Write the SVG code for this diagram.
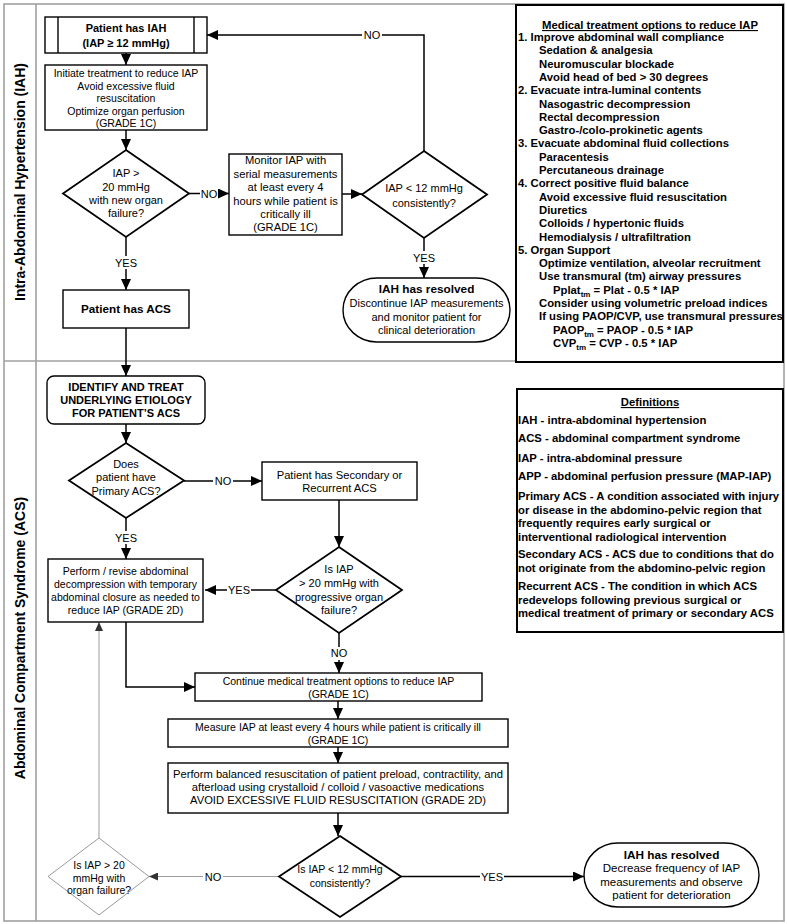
<svg xmlns="http://www.w3.org/2000/svg" width="787" height="924" viewBox="0 0 787 924">
<style>
text{font-family:"Liberation Sans",Arial,sans-serif;fill:#000}
.t{font-size:10.5px;text-anchor:middle}
.t11{font-size:11px;text-anchor:middle}
.t112{font-size:11.2px;text-anchor:middle}
.lb{font-size:11px;text-anchor:middle}
.b{font-size:11px;font-weight:bold;text-anchor:middle}
.bt{font-size:11.8px;font-weight:bold;text-anchor:middle}
.lst{font-size:11.3px;font-weight:bold}
.lane{font-size:14px;font-weight:bold;text-anchor:middle}
.box{fill:#fff;stroke:#000;stroke-width:1.4}
.dia{fill:#fff;stroke:#000;stroke-width:1.8}
.panel{fill:#fff;stroke:#000;stroke-width:2}
.c{fill:none;stroke:#000;stroke-width:1.5}
.g{fill:none;stroke:#9a9a9a;stroke-width:1}
.bg{fill:#fff;stroke:none}
.frame{fill:none;stroke:#a0a0a0;stroke-width:1.6}
</style>
<defs>
<marker id="ah" markerUnits="userSpaceOnUse" markerWidth="11" markerHeight="10" refX="11" refY="5" orient="auto">
<path d="M0,0 L11,5 L0,10 Z" fill="#000"/>
</marker>
<marker id="ahg" markerUnits="userSpaceOnUse" markerWidth="9" markerHeight="8" refX="9" refY="4" orient="auto">
<path d="M0,0 L9,4 L0,8 Z" fill="#333"/>
</marker>
</defs>
<rect width="787" height="924" fill="#fff"/>
<g id="frame">
<rect class="frame" x="4" y="4" width="780" height="917"/>
<line class="frame" x1="36" y1="4" x2="36" y2="921"/>
<line class="frame" x1="4" y1="361" x2="784" y2="361"/>
<text class="lane" transform="translate(25,182) rotate(-90)">Intra-Abdominal Hypertension (IAH)</text>
<text class="lane" transform="translate(25,638) rotate(-90)">Abdominal Compartment Syndrome (ACS)</text>
</g>
<g id="connectors">
<line class="c" x1="126" y1="53" x2="126" y2="65" marker-end="url(#ah)"/>
<line class="c" x1="126" y1="130" x2="126" y2="150" marker-end="url(#ah)"/>
<line class="c" x1="189" y1="193.5" x2="229" y2="193.5" marker-end="url(#ah)"/>
<rect class="bg" x="200" y="187" width="18" height="13"/>
<text class="lb" x="209" y="197.5">NO</text>
<line class="c" x1="342" y1="194" x2="362" y2="194" marker-end="url(#ah)"/>
<polyline class="c" points="424,151 424,35 207,35" marker-end="url(#ah)"/>
<rect class="bg" x="362" y="29" width="20" height="13"/>
<text class="lb" x="372" y="39">NO</text>
<line class="c" x1="424" y1="238" x2="424" y2="278" marker-end="url(#ah)"/>
<rect class="bg" x="412" y="251" width="24" height="13"/>
<text class="lb" x="424" y="262">YES</text>
<line class="c" x1="126" y1="237" x2="126" y2="290" marker-end="url(#ah)"/>
<rect class="bg" x="114" y="256" width="24" height="13"/>
<text class="lb" x="126" y="267">YES</text>
<line class="c" x1="126" y1="328" x2="126" y2="376" marker-end="url(#ah)"/>
<line class="c" x1="126" y1="424" x2="126" y2="443" marker-end="url(#ah)"/>
<line class="c" x1="184" y1="481" x2="262" y2="481" marker-end="url(#ah)"/>
<rect class="bg" x="213" y="475" width="20" height="13"/>
<text class="lb" x="223" y="485">NO</text>
<line class="c" x1="339" y1="500" x2="339" y2="547" marker-end="url(#ah)"/>
<line class="c" x1="276" y1="590" x2="205" y2="590" marker-end="url(#ah)"/>
<rect class="bg" x="227" y="584" width="24" height="13"/>
<text class="lb" x="239" y="594">YES</text>
<line class="c" x1="126" y1="518" x2="126" y2="559" marker-end="url(#ah)"/>
<rect class="bg" x="114" y="531" width="24" height="13"/>
<text class="lb" x="126" y="542">YES</text>
<polyline class="c" points="126,622 126,687 195,687" marker-end="url(#ah)"/>
<line class="c" x1="339" y1="633" x2="339" y2="673" marker-end="url(#ah)"/>
<rect class="bg" x="329" y="647" width="20" height="13"/>
<text class="lb" x="339" y="657">NO</text>
<line class="c" x1="338" y1="701" x2="338" y2="719" marker-end="url(#ah)"/>
<line class="c" x1="338" y1="747" x2="338" y2="763" marker-end="url(#ah)"/>
<line class="c" x1="338" y1="813" x2="338" y2="836" marker-end="url(#ah)"/>
<line class="g" x1="279" y1="876.5" x2="149" y2="876.5" marker-end="url(#ahg)"/>
<rect class="bg" x="203" y="870" width="20" height="13"/>
<text class="lb" x="213" y="880.5">NO</text>
<line class="g" x1="99" y1="838" x2="99" y2="622" marker-end="url(#ahg)"/>
<line class="c" x1="401" y1="876.5" x2="584" y2="876.5" marker-end="url(#ah)"/>
<rect class="bg" x="480" y="870" width="24" height="13"/>
<text class="lb" x="492" y="880.5">YES</text>
</g>
<g id="n-iah">
<rect class="box" x="45" y="17" width="162" height="36"/>
<line class="box" x1="58" y1="17" x2="58" y2="53"/>
<line class="box" x1="194" y1="17" x2="194" y2="53"/>
<text class="b" x="126" y="32">Patient has IAH</text>
<text class="b" x="126" y="47">(IAP ≥ 12 mmHg)</text>
</g>
<g id="n-initiate">
<rect class="box" x="45" y="65" width="162" height="65"/>
<text class="t" x="126" y="77">Initiate treatment to reduce IAP</text>
<text class="t" x="126" y="89.5">Avoid excessive fluid</text>
<text class="t" x="126" y="102">resuscitation</text>
<text class="t" x="126" y="114.5">Optimize organ perfusion</text>
<text class="t" x="126" y="127">(GRADE 1C)</text>
</g>
<g id="n-d1">
<polygon class="dia" points="126,150 189,193.5 126,237 63,193.5"/>
<text class="t11" x="126" y="177">IAP &gt;</text>
<text class="t11" x="126" y="190.5">20 mmHg</text>
<text class="t11" x="126" y="204">with new organ</text>
<text class="t11" x="126" y="217">failure?</text>
</g>
<g id="n-monitor">
<rect class="box" x="229" y="154" width="113" height="81"/>
<text class="t112" x="285.5" y="164">Monitor IAP with</text>
<text class="t112" x="285.5" y="177.5">serial measurements</text>
<text class="t112" x="285.5" y="191">at least every 4</text>
<text class="t112" x="285.5" y="204.5">hours while patient is</text>
<text class="t112" x="285.5" y="218">critically ill</text>
<text class="t112" x="285.5" y="231">(GRADE 1C)</text>
</g>
<g id="n-d2">
<polygon class="dia" points="424,151 487,194.5 424,238 362,194.5"/>
<text class="t11" x="424" y="192">IAP &lt; 12 mmHg</text>
<text class="t11" x="424" y="207">consistently?</text>
</g>
<g id="n-resolved1">
<rect class="box" x="343" y="278" width="167" height="64" rx="34" ry="32"/>
<text class="bt" x="426.5" y="293">IAH has resolved</text>
<text class="t11" x="426.5" y="307">Discontinue IAP measurements</text>
<text class="t11" x="426.5" y="320.5">and monitor patient for</text>
<text class="t11" x="426.5" y="334">clinical deterioration</text>
</g>
<g id="n-acs">
<rect class="box" x="63" y="290" width="126" height="38"/>
<text class="b" x="126" y="313" style="font-size:11.7px">Patient has ACS</text>
</g>
<g id="n-identify">
<rect class="box" x="47" y="376" width="158" height="48" rx="7"/>
<text class="b" x="126" y="391">IDENTIFY AND TREAT</text>
<text class="b" x="126" y="404">UNDERLYING ETIOLOGY</text>
<text class="b" x="126" y="417">FOR PATIENT’S ACS</text>
</g>
<g id="n-d3">
<polygon class="dia" points="126,443 184,480.5 126,518 69,480.5"/>
<text class="t11" x="126" y="468">Does</text>
<text class="t11" x="126" y="481">patient have</text>
<text class="t11" x="126" y="495">Primary ACS?</text>
</g>
<g id="n-secondary">
<rect class="box" x="262" y="462" width="155" height="38"/>
<text class="t112" x="339.5" y="479">Patient has Secondary or</text>
<text class="t112" x="339.5" y="491.5">Recurrent ACS</text>
</g>
<g id="n-d4">
<polygon class="dia" points="339,547 402,590 339,633 276,590"/>
<text class="t11" x="339" y="573">Is IAP</text>
<text class="t11" x="339" y="587">&gt; 20 mmHg with</text>
<text class="t11" x="339" y="601">progressive organ</text>
<text class="t11" x="339" y="614">failure?</text>
</g>
<g id="n-decompress">
<rect class="box" x="48" y="559" width="155" height="63"/>
<text class="t" x="125.5" y="575">Perform / revise abdominal</text>
<text class="t" x="125.5" y="588">decompression with temporary</text>
<text class="t" x="125.5" y="601">abdominal closure as needed to</text>
<text class="t" x="125.5" y="613.5">reduce IAP (GRADE 2D)</text>
</g>
<g id="n-continue">
<rect class="box" x="195" y="673" width="287" height="28"/>
<text class="t" x="338.5" y="685">Continue medical treatment options to reduce IAP</text>
<text class="t" x="338.5" y="697.5">(GRADE 1C)</text>
</g>
<g id="n-measure">
<rect class="box" x="168" y="719" width="340" height="28"/>
<text class="t" x="338" y="731">Measure IAP at least every 4 hours while patient is critically ill</text>
<text class="t" x="338" y="743.5">(GRADE 1C)</text>
</g>
<g id="n-balanced">
<rect class="box" x="168" y="763" width="340" height="50"/>
<text class="t112" x="338" y="778">Perform balanced resuscitation of patient preload, contractility, and</text>
<text class="t112" x="338" y="791">afterload using crystalloid / colloid / vasoactive medications</text>
<text class="t112" x="338" y="804">AVOID EXCESSIVE FLUID RESUSCITATION (GRADE 2D)</text>
</g>
<g id="n-d5">
<polygon class="dia" points="340,836 401,876.5 340,917 279,876.5"/>
<text class="t" x="340" y="873">Is IAP &lt; 12 mmHg</text>
<text class="t" x="340" y="887">consistently?</text>
</g>
<g id="n-d6">
<polygon fill="#fff" stroke="#9a9a9a" stroke-width="1" points="99,838 149,876.5 99,915 48,876.5"/>
<text class="t" x="99" y="869">Is IAP &gt; 20</text>
<text class="t" x="99" y="882">mmHg with</text>
<text class="t" x="99" y="894">organ failure?</text>
</g>
<g id="n-resolved2">
<rect class="box" x="584" y="843" width="175" height="64" rx="34" ry="32"/>
<text class="bt" x="671.5" y="859">IAH has resolved</text>
<text class="t" x="671.5" y="872" style="font-size:11.5px">Decrease frequency of IAP</text>
<text class="t" x="671.5" y="886" style="font-size:11.5px">measurements and observe</text>
<text class="t" x="671.5" y="899" style="font-size:11.5px">patient for deterioration</text>
</g>
<g id="n-medical">
<rect class="panel" x="516" y="5" width="267" height="357"/>
<text class="lst" x="650" y="29" text-anchor="middle" text-decoration="underline">Medical treatment options to reduce IAP</text>
<text class="lst" x="518" y="41">1. Improve abdominal wall compliance</text>
<text class="lst" x="539" y="54.3">Sedation &amp; analgesia</text>
<text class="lst" x="539" y="67.6">Neuromuscular blockade</text>
<text class="lst" x="539" y="80.9">Avoid head of bed &gt; 30 degrees</text>
<text class="lst" x="518" y="94.2">2. Evacuate intra-luminal contents</text>
<text class="lst" x="539" y="107.5">Nasogastric decompression</text>
<text class="lst" x="539" y="120.8">Rectal decompression</text>
<text class="lst" x="539" y="134.1">Gastro-/colo-prokinetic agents</text>
<text class="lst" x="518" y="147.4">3. Evacuate abdominal fluid collections</text>
<text class="lst" x="539" y="160.7">Paracentesis</text>
<text class="lst" x="539" y="174">Percutaneous drainage</text>
<text class="lst" x="518" y="187.3">4. Correct positive fluid balance</text>
<text class="lst" x="539" y="200.6">Avoid excessive fluid resuscitation</text>
<text class="lst" x="539" y="213.9">Diuretics</text>
<text class="lst" x="539" y="227.2">Colloids / hypertonic fluids</text>
<text class="lst" x="539" y="240.5">Hemodialysis / ultrafiltration</text>
<text class="lst" x="518" y="253.8">5. Organ Support</text>
<text class="lst" x="539" y="267.1">Optimize ventilation, alveolar recruitment</text>
<text class="lst" x="539" y="280.4">Use transmural (tm) airway pressures</text>
<text class="lst" x="553" y="293.7">Pplat<tspan font-size="8" dy="3">tm</tspan><tspan dy="-3"> = Plat - 0.5 * IAP</tspan></text>
<text class="lst" x="539" y="307">Consider using volumetric preload indices</text>
<text class="lst" x="539" y="320.3">If using PAOP/CVP, use transmural pressures</text>
<text class="lst" x="553" y="333.6">PAOP<tspan font-size="8" dy="3">tm</tspan><tspan dy="-3"> = PAOP - 0.5 * IAP</tspan></text>
<text class="lst" x="553" y="346.9">CVP<tspan font-size="8" dy="3">tm</tspan><tspan dy="-3"> = CVP - 0.5 * IAP</tspan></text>
</g>
<g id="n-definitions">
<rect class="panel" x="517" y="389" width="266" height="243"/>
<text class="lst" x="650" y="406" text-anchor="middle" text-decoration="underline">Definitions</text>
<text class="lst" x="518" y="424">IAH - intra-abdominal hypertension</text>
<text class="lst" x="518" y="441.5">ACS - abdominal compartment syndrome</text>
<text class="lst" x="518" y="462">IAP - intra-abdominal pressure</text>
<text class="lst" x="518" y="480">APP - abdominal perfusion pressure (MAP-IAP)</text>
<text class="lst" x="518" y="500">Primary ACS - A condition associated with injury</text>
<text class="lst" x="518" y="513.5">or disease in the abdomino-pelvic region that</text>
<text class="lst" x="518" y="527">frequently requires early surgical or</text>
<text class="lst" x="518" y="541">interventional radiological intervention</text>
<text class="lst" x="518" y="558">Secondary ACS - ACS due to conditions that do</text>
<text class="lst" x="518" y="572">not originate from the abdomino-pelvic region</text>
<text class="lst" x="518" y="590">Recurrent ACS - The condition in which ACS</text>
<text class="lst" x="518" y="603.5">redevelops following previous surgical or</text>
<text class="lst" x="518" y="617">medical treatment of primary or secondary ACS</text>
</g>
</svg>
